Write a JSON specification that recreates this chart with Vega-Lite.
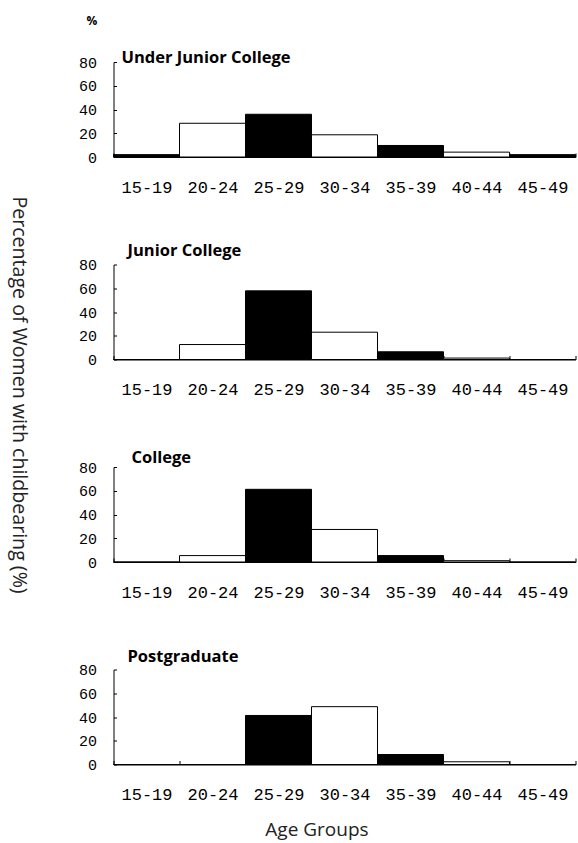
{
  "$schema": "https://vega.github.io/schema/vega-lite/v6.json",
  "background": "white",
  "padding": {"left": 8.5, "top": 15, "right": 0, "bottom": 5},
  "title": {"text": "%", "anchor": "start", "frame": "group", "dx": -27, "offset": 13, "baseline": "alphabetic", "font": "Open Sans", "fontSize": 12, "fontWeight": "bold", "color": "black"},
  "datasets": {
    "births": [
      {"level": "Under Junior College", "age": "15-19", "value": 2.0},
      {"level": "Under Junior College", "age": "20-24", "value": 28.4},
      {"level": "Under Junior College", "age": "25-29", "value": 36.0},
      {"level": "Under Junior College", "age": "30-34", "value": 18.7},
      {"level": "Under Junior College", "age": "35-39", "value": 9.7},
      {"level": "Under Junior College", "age": "40-44", "value": 4.1},
      {"level": "Under Junior College", "age": "45-49", "value": 2.0},
      {"level": "Junior College", "age": "15-19", "value": 0},
      {"level": "Junior College", "age": "20-24", "value": 12.6},
      {"level": "Junior College", "age": "25-29", "value": 57.8},
      {"level": "Junior College", "age": "30-34", "value": 23.0},
      {"level": "Junior College", "age": "35-39", "value": 6.5},
      {"level": "Junior College", "age": "40-44", "value": 1.2},
      {"level": "Junior College", "age": "45-49", "value": 0},
      {"level": "College", "age": "15-19", "value": 0},
      {"level": "College", "age": "20-24", "value": 5.4},
      {"level": "College", "age": "25-29", "value": 61.2},
      {"level": "College", "age": "30-34", "value": 27.4},
      {"level": "College", "age": "35-39", "value": 5.4},
      {"level": "College", "age": "40-44", "value": 1.1},
      {"level": "College", "age": "45-49", "value": 0},
      {"level": "Postgraduate", "age": "15-19", "value": 0},
      {"level": "Postgraduate", "age": "20-24", "value": 0},
      {"level": "Postgraduate", "age": "25-29", "value": 41.3},
      {"level": "Postgraduate", "age": "30-34", "value": 48.7},
      {"level": "Postgraduate", "age": "35-39", "value": 8.4},
      {"level": "Postgraduate", "age": "40-44", "value": 2.3},
      {"level": "Postgraduate", "age": "45-49", "value": 0}
    ]
  },
  "bounds": "flush",
  "spacing": 107.5,
  "config": {
    "view": {"stroke": null},
    "axis": {
      "grid": false,
      "domainColor": "black",
      "domainWidth": 1,
      "tickColor": "black",
      "tickWidth": 1,
      "labelColor": "black",
      "labelFont": "Liberation Mono",
      "titleFont": "Open Sans",
      "titleFontWeight": "normal",
      "titleColor": "#222"
    },
    "axisX": {"labelFontSize": 17, "labelAngle": 0, "tickBand": "extent", "tickSize": -4, "labelPadding": 26, "labelBaseline": "top"},
    "axisY": {"labelFontSize": 15, "tickSize": -3, "labelPadding": 20, "values": [0, 20, 40, 60, 80]},
    "title": {"anchor": "start", "frame": "group", "baseline": "alphabetic", "font": "Open Sans", "fontSize": 16.5, "fontWeight": "bold", "color": "black"}
  },
  "vconcat": [
    {
      "width": 462, "height": 95,
      "title": {"text": "Under Junior College", "dx": 8, "offset": -11.5},
      "data": {"name": "births"},
      "transform": [{"filter": "datum.level === 'Under Junior College'"}],
      "mark": {"type": "bar", "stroke": "black", "strokeWidth": 1},
      "encoding": {
        "x": {"field": "age", "type": "nominal", "sort": null, "scale": {"domain": ["15-19", "20-24", "25-29", "30-34", "35-39", "40-44", "45-49"], "paddingInner": 0, "paddingOuter": 0}, "axis": {"title": null}},
        "y": {"field": "value", "type": "quantitative", "scale": {"domain": [0, 80], "nice": false}, "axis": {"title": "Percentage of Women with childbearing (%)", "titleAngle": 90, "titleX": -95, "titleY": 332.5, "titleAlign": "center", "titleBaseline": "middle", "titleFontSize": 19.6}},
        "fill": {"field": "age", "type": "nominal", "scale": {"domain": ["15-19", "20-24", "25-29", "30-34", "35-39", "40-44", "45-49"], "range": ["black", "white", "black", "white", "black", "white", "black"]}, "legend": null}
      }
    },
    {
      "width": 462, "height": 95,
      "title": {"text": "Junior College", "dx": 14, "offset": -1.5},
      "data": {"name": "births"},
      "transform": [{"filter": "datum.level === 'Junior College'"}],
      "mark": {"type": "bar", "stroke": "black", "strokeWidth": 1},
      "encoding": {
        "x": {"field": "age", "type": "nominal", "sort": null, "scale": {"domain": ["15-19", "20-24", "25-29", "30-34", "35-39", "40-44", "45-49"], "paddingInner": 0, "paddingOuter": 0}, "axis": {"title": null}},
        "y": {"field": "value", "type": "quantitative", "scale": {"domain": [0, 80], "nice": false}, "axis": {"title": null}},
        "fill": {"field": "age", "type": "nominal", "scale": {"domain": ["15-19", "20-24", "25-29", "30-34", "35-39", "40-44", "45-49"], "range": ["black", "white", "black", "white", "black", "white", "black"]}, "legend": null}
      }
    },
    {
      "width": 462, "height": 95,
      "title": {"text": "College", "dx": 18, "offset": -6.5},
      "data": {"name": "births"},
      "transform": [{"filter": "datum.level === 'College'"}],
      "mark": {"type": "bar", "stroke": "black", "strokeWidth": 1},
      "encoding": {
        "x": {"field": "age", "type": "nominal", "sort": null, "scale": {"domain": ["15-19", "20-24", "25-29", "30-34", "35-39", "40-44", "45-49"], "paddingInner": 0, "paddingOuter": 0}, "axis": {"title": null}},
        "y": {"field": "value", "type": "quantitative", "scale": {"domain": [0, 80], "nice": false}, "axis": {"title": null}},
        "fill": {"field": "age", "type": "nominal", "scale": {"domain": ["15-19", "20-24", "25-29", "30-34", "35-39", "40-44", "45-49"], "range": ["black", "white", "black", "white", "black", "white", "black"]}, "legend": null}
      }
    },
    {
      "width": 462, "height": 95,
      "title": {"text": "Postgraduate", "dx": 14, "offset": -2.5},
      "data": {"name": "births"},
      "transform": [{"filter": "datum.level === 'Postgraduate'"}],
      "mark": {"type": "bar", "stroke": "black", "strokeWidth": 1},
      "encoding": {
        "x": {"field": "age", "type": "nominal", "sort": null, "scale": {"domain": ["15-19", "20-24", "25-29", "30-34", "35-39", "40-44", "45-49"], "paddingInner": 0, "paddingOuter": 0}, "axis": {"title": "Age Groups", "titleX": 203, "titleY": 71, "titleAlign": "center", "titleBaseline": "alphabetic", "titleFontSize": 19}},
        "y": {"field": "value", "type": "quantitative", "scale": {"domain": [0, 80], "nice": false}, "axis": {"title": null}},
        "fill": {"field": "age", "type": "nominal", "scale": {"domain": ["15-19", "20-24", "25-29", "30-34", "35-39", "40-44", "45-49"], "range": ["black", "white", "black", "white", "black", "white", "black"]}, "legend": null}
      }
    }
  ]
}
